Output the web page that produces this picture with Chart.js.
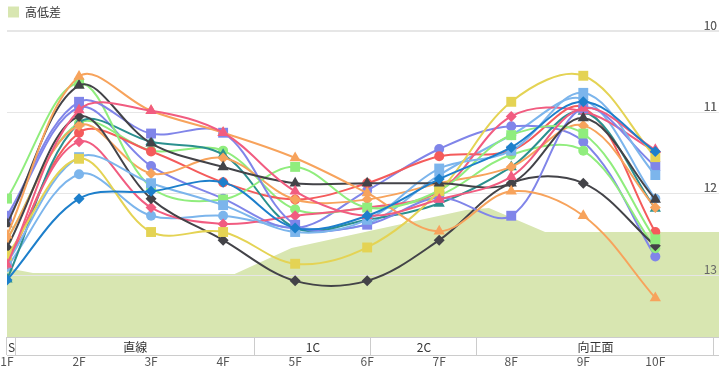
<!DOCTYPE html>
<html><head><meta charset="utf-8">
<script src="https://cdn.jsdelivr.net/npm/chart.js@4"></script>
<style>html,body{margin:0;padding:0;background:#fff}canvas{display:block}</style>
</head><body>
<canvas id="c" width="726" height="371"></canvas>
<script>
// ---- data ----
const xLabels = ['1F','2F','3F','4F','5F','6F','7F','8F','9F','10F'];
const yTicks = [10, 11, 12, 13];
const elevationLabel = '高低差';
const elevationX = [1, 1.36, 4.16, 4.95, 7.37, 7.69, 8.47, 10.884];
const elevationY = [0.69, 0.64, 0.63, 0.89, 1.27, 1.29, 1.05, 1.05];
const sectionNames = ['S', '直線', '1C', '2C', '向正面'];
const sectionBounds = [1, 1.124, 4.44, 6.055, 7.52, 10.82];

const lightBlueSquare = [12.85, 11.55, 11.87, 12.14, 12.47, 12.32, 11.69, 11.47, 10.76, 11.77];
const lightBlueCircle = [12.90, 11.76, 12.27, 12.27, 12.42, 12.37, 11.77, 11.28, 10.84, 12.06];
const darkTriangle    = [12.37, 10.67, 11.38, 11.67, 11.87, 11.87, 11.87, 11.87, 11.07, 12.07];
const darkDiamond     = [12.66, 11.05, 12.06, 12.57, 13.07, 13.07, 12.57, 11.87, 11.87, 12.64];
const greenSquare     = [12.06, 10.64, 11.92, 12.07, 11.67, 12.17, 11.96, 11.28, 11.26, 12.56];
const greenCircle     = [12.56, 11.13, 11.47, 11.47, 12.19, 12.17, 12.02, 11.52, 11.47, 12.67];
const orangeTriangle  = [12.51, 10.56, 10.98, 11.25, 11.56, 11.99, 12.46, 11.97, 12.27, 13.28];
const orangeDiamond   = [12.56, 11.16, 11.75, 11.56, 12.07, 12.07, 11.87, 11.67, 11.16, 12.17];
const purpleSquare    = [12.27, 10.87, 11.26, 11.25, 12.38, 12.38, 12.05, 12.27, 10.95, 11.66];
const purpleCircle    = [12.32, 10.94, 11.66, 12.06, 12.42, 11.96, 11.45, 11.17, 11.36, 12.77];
const pinkTriangle    = [12.87, 10.97, 10.98, 11.25, 11.97, 12.27, 12.07, 11.79, 10.95, 11.46];
const pinkDiamond     = [12.81, 11.36, 12.17, 12.37, 12.27, 12.17, 11.97, 11.05, 10.99, 11.48];
const yellowSquare    = [12.76, 11.57, 12.47, 12.47, 12.86, 12.66, 11.97, 10.87, 10.55, 11.55];
const tealTriangle    = [13.05, 11.13, 11.36, 11.52, 12.42, 12.32, 12.12, 11.67, 10.99, 12.18];
const redCircle       = [12.86, 11.25, 11.48, 11.86, 12.07, 11.87, 11.54, 11.47, 10.94, 12.47];
const blueDiamond     = [13.06, 12.06, 11.97, 11.86, 12.42, 12.27, 11.82, 11.43, 10.87, 11.48];

// ---- styling (kept separate from the data) ----
const FONT = "'Noto Sans CJK JP', 'Noto Sans', sans-serif";
const series = [
  { values: blueDiamond,     color: '#1d7fcb', marker: 'rectRot' },
  { values: pinkTriangle,    color: '#f15c80', marker: 'triangle' },
  { values: orangeTriangle,  color: '#f7a35c', marker: 'triangle' },
  { values: darkTriangle,    color: '#434348', marker: 'triangle' },
  { values: yellowSquare,    color: '#e4d354', marker: 'rect' },
  { values: lightBlueSquare, color: '#7cb5ec', marker: 'rect' },
  { values: purpleSquare,    color: '#8085e9', marker: 'rect' },
  { values: greenSquare,     color: '#90ed7d', marker: 'rect' },
  { values: darkDiamond,     color: '#434348', marker: 'rectRot' },
  { values: pinkDiamond,     color: '#f15c80', marker: 'rectRot' },
  { values: orangeDiamond,   color: '#f7a35c', marker: 'rectRot' },
  { values: tealTriangle,    color: '#2b908f', marker: 'triangle' },
  { values: redCircle,       color: '#f45b5b', marker: 'circle' },
  { values: greenCircle,     color: '#90ed7d', marker: 'circle' },
  { values: purpleCircle,    color: '#8085e9', marker: 'circle' },
  { values: lightBlueCircle, color: '#7cb5ec', marker: 'circle' }
];
const markerRadius = { rect: 7, circle: 5, triangle: 6.5, rectRot: 5.5 };

const datasets = series.map((s, k) => ({
  label: 'series' + k,
  data: s.values.map((v, i) => ({ x: i + 1, y: v })),
  borderColor: s.color,
  backgroundColor: s.color,
  pointBackgroundColor: s.color,
  pointBorderColor: s.color,
  pointBorderWidth: 0,
  pointStyle: s.marker,
  pointRadius: markerRadius[s.marker],
  borderWidth: 2,
  tension: 0.35,
  fill: false,
  yAxisID: 'y',
  order: 0
}));

datasets.push({
  label: elevationLabel,
  data: elevationX.map((x, i) => ({ x: x, y: elevationY[i] })),
  backgroundColor: '#d8e6b1',
  borderColor: '#d8e6b1',
  borderWidth: 0,
  pointRadius: 0,
  tension: 0,
  fill: 'start',
  yAxisID: 'y2',
  order: 99
});

// redraw the y grid and tick labels right after the elevation area, so they sit above it but below the lines
const gridOverArea = {
  id: 'gridOverArea',
  afterDatasetDraw(chart, args) {
    if (args.meta.label !== elevationLabel) return;
    const y = chart.scales.y;
    chart.ctx.save();
    y.drawGrid(chart.chartArea);
    y.drawLabels(chart.chartArea);
    chart.ctx.restore();
  }
};

const sectionBand = {
  id: 'sectionBand',
  afterDraw(chart) {
    const { ctx, chartArea, scales: { x } } = chart;
    const top = Math.round(chartArea.bottom), h = 18, bottom = top + h;
    ctx.save();
    ctx.fillStyle = '#fff';
    ctx.fillRect(chartArea.left, top, chartArea.right - chartArea.left, h);
    ctx.strokeStyle = '#cccccc';
    ctx.lineWidth = 1;
    ctx.beginPath();
    ctx.moveTo(chartArea.left, top + 0.5); ctx.lineTo(chartArea.right, top + 0.5);
    ctx.moveTo(chartArea.left, bottom + 0.5); ctx.lineTo(chartArea.right, bottom + 0.5);
    sectionBounds.forEach(b => {
      const px = Math.round(x.getPixelForValue(b)) - 0.5;
      ctx.moveTo(px, top); ctx.lineTo(px, bottom);
    });
    ctx.stroke();
    ctx.fillStyle = '#333';
    ctx.font = '12px ' + FONT;
    ctx.textAlign = 'center';
    ctx.textBaseline = 'middle';
    sectionNames.forEach((n, i) => {
      const c = (x.getPixelForValue(sectionBounds[i]) + x.getPixelForValue(sectionBounds[i + 1])) / 2;
      ctx.fillText(n, c, top + h / 2 + 1);
    });
    ctx.restore();
  }
};

Chart.defaults.font.family = FONT;
Chart.defaults.font.size = 12;

new Chart(document.getElementById('c'), {
  type: 'line',
  data: { datasets },
  plugins: [gridOverArea, sectionBand],
  options: {
    responsive: false,
    animation: false,
    events: [],
    layout: { padding: { left: 6, right: 0, top: 0, bottom: 3 } },
    plugins: {
      legend: {
        display: true,
        position: 'top',
        align: 'start',
        weight: 3000,
        labels: {
          boxWidth: 11,
          boxHeight: 11,
          padding: 2,
          color: '#333',
          font: { size: 12, family: FONT },
          filter: item => item.text === elevationLabel
        }
      },
      title: {
        display: true,
        text: ' ',
        padding: 0,
        font: { size: 3, lineHeight: 1 }
      },
      tooltip: { enabled: false }
    },
    scales: {
      x: {
        type: 'linear',
        min: 1,
        max: 10.884,
        grid: { display: false, drawTicks: false },
        border: { display: false },
        afterBuildTicks: s => { s.ticks = xLabels.map((_, i) => ({ value: i + 1 })); },
        afterFit: s => { s.paddingLeft = 0; s.paddingRight = 4; s.height = 31; },
        ticks: {
          padding: 17,
          color: '#555',
          maxRotation: 0,
          autoSkip: false,
          font: { size: 12, family: FONT },
          callback: v => xLabels[Math.round(v) - 1]
        }
      },
      y: {
        type: 'linear',
        position: 'right',
        reverse: true,
        min: 10,
        max: 13.76,
        afterBuildTicks: s => { s.ticks = yTicks.map(v => ({ value: v })); },
        afterFit: s => { s.paddingTop = 31; s.paddingBottom = 0; s.width = 0; },
        grid: {
          color: '#e6e6e6',
          lineWidth: c => (c.tick && c.tick.value === yTicks[0]) ? 2 : 1,
          drawTicks: false
        },
        border: { display: false },
        ticks: {
          mirror: true,
          padding: -2,
          labelOffset: -6,
          color: '#666',
          font: { size: 12, family: FONT }
        }
      },
      y2: {
        type: 'linear',
        display: false,
        min: 0,
        max: 3.06
      }
    }
  }
});
</script>
</body></html>
